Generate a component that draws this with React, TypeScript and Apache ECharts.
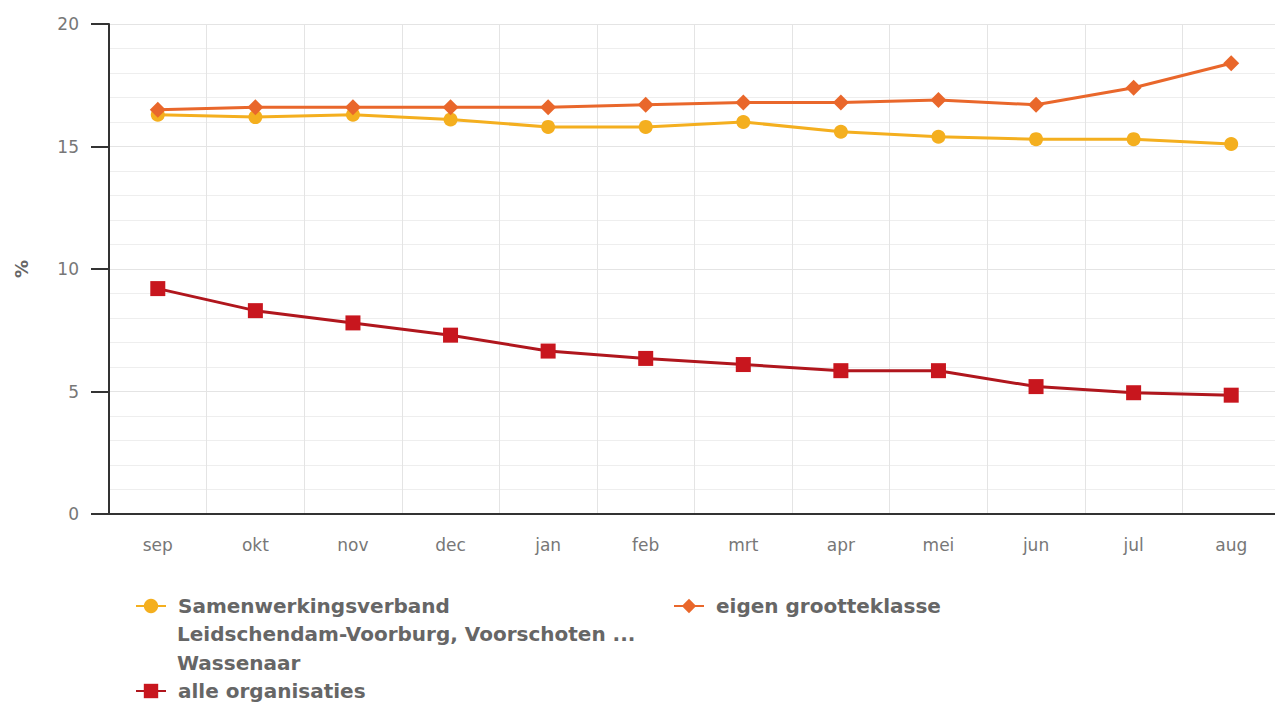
import React, { useEffect, useRef } from "react";
import * as echarts from "echarts";

const months = ["sep", "okt", "nov", "dec", "jan", "feb", "mrt", "apr", "mei", "jun", "jul", "aug"];
const samenwerkingsverband = [16.3, 16.2, 16.3, 16.1, 15.8, 15.8, 16.0, 15.6, 15.4, 15.3, 15.3, 15.1];
const eigenGrootteklasse = [16.5, 16.6, 16.6, 16.6, 16.6, 16.7, 16.8, 16.8, 16.9, 16.7, 17.4, 18.4];
const alleOrganisaties = [9.2, 8.3, 7.8, 7.3, 6.65, 6.35, 6.1, 5.85, 5.85, 5.2, 4.95, 4.85];

const S1 = "Samenwerkingsverband Leidschendam-Voorburg, Voorschoten ... Wassenaar";
const S2 = "eigen grootteklasse";
const S3 = "alle organisaties";

const FONT = "DejaVu Sans";

export default function App() {
  const ref = useRef<HTMLDivElement>(null);
  useEffect(() => {
    const chart = echarts.init(ref.current!, null, { renderer: "svg" });
    const legendText = { color: "#666", fontSize: 20, fontWeight: "bold", fontFamily: FONT, padding: [0, 0, 0, 7] };
    const legendBase = { itemWidth: 30, itemHeight: 18, padding: 0, textStyle: legendText };
    chart.setOption({
      animation: false,
      backgroundColor: "#fff",
      grid: { left: 109, top: 24, width: 1171, height: 490, containLabel: false, outerBoundsMode: "none" },
      xAxis: {
        type: "category",
        data: months,
        boundaryGap: true,
        axisLine: { lineStyle: { color: "#333", width: 2 } },
        axisTick: { show: false },
        axisLabel: { color: "#777", fontSize: 17, fontFamily: FONT, margin: 22 },
        splitLine: { show: true, lineStyle: { color: "#e4e4e4", width: 1 } },
      },
      yAxis: {
        type: "value",
        min: 0,
        max: 20,
        interval: 5,
        name: "%",
        nameLocation: "middle",
        nameGap: 79,
        nameTextStyle: { color: "#666", fontSize: 18, fontFamily: FONT, fontWeight: "bold" },
        axisLine: { show: true, lineStyle: { color: "#333", width: 2 } },
        axisTick: { show: true, length: 18, lineStyle: { color: "#333", width: 2 } },
        axisLabel: { color: "#777", fontSize: 17, fontFamily: FONT, margin: 30 },
        splitLine: { show: true, lineStyle: { color: "#e4e4e4", width: 1 } },
        minorTick: { show: false, splitNumber: 5 },
        minorSplitLine: { show: true, lineStyle: { color: "#eeeeee", width: 1 } },
      },
      legend: [
        { ...legendBase, data: [S1], left: 135, top: 596, formatter: () => "Samenwerkingsverband" },
        { ...legendBase, data: [S2], left: 673, top: 596 },
        { ...legendBase, data: [S3], left: 135, top: 681 },
      ],
      graphic: [
        {
          type: "text",
          x: 177,
          y: 634,
          style: {
            text: "Leidschendam-Voorburg, Voorschoten ...",
            fill: "#666",
            font: `bold 20px "${FONT}"`,
            verticalAlign: "middle",
          },
        },
        {
          type: "text",
          x: 177,
          y: 663,
          style: { text: "Wassenaar", fill: "#666", font: `bold 20px "${FONT}"`, verticalAlign: "middle" },
        },
      ],
      series: [
        {
          name: S1,
          type: "line",
          data: samenwerkingsverband,
          color: "#F4AF1F",
          symbol: "circle",
          symbolSize: 14,
          lineStyle: { width: 3 },
          z: 3,
        },
        {
          name: S2,
          type: "line",
          data: eigenGrootteklasse,
          color: "#E9672B",
          symbol: "diamond",
          symbolSize: 16,
          lineStyle: { width: 3 },
          z: 4,
        },
        {
          name: S3,
          type: "line",
          data: alleOrganisaties,
          color: "#C8161E",
          symbol: "rect",
          symbolSize: 15,
          lineStyle: { width: 3, color: "#B0161D" },
          z: 5,
        },
      ],
    });
    return () => chart.dispose();
  }, []);
  return <div ref={ref} style={{ position: "fixed", left: 0, top: 0, width: 1275, height: 704 }} />;
}
